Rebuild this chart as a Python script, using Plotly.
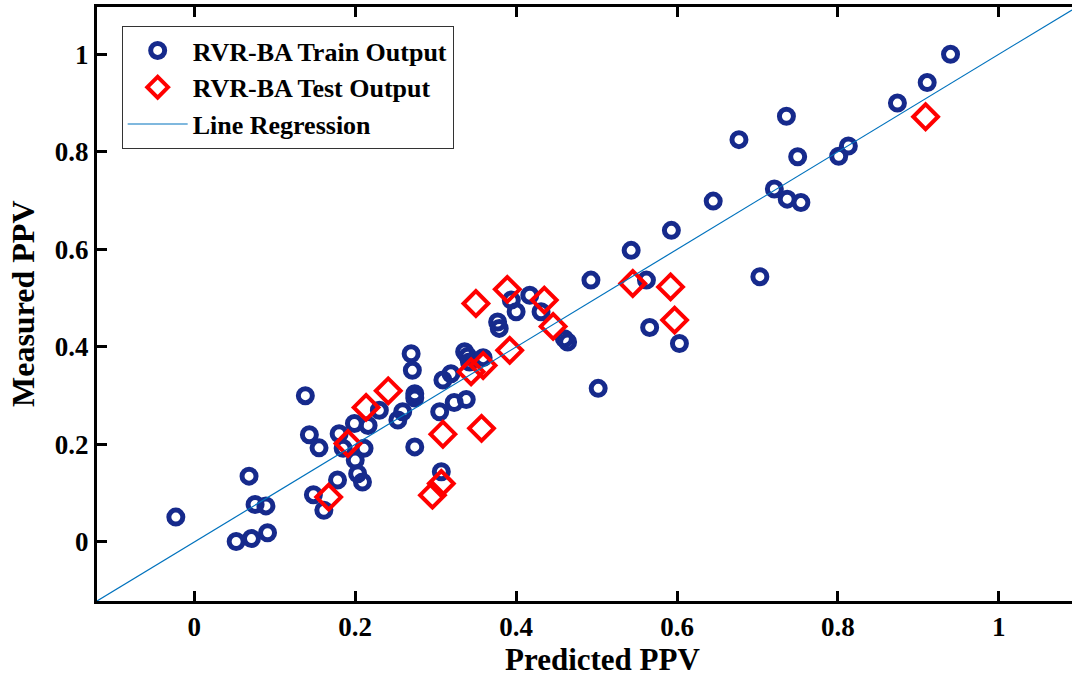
import plotly.graph_objects as go

train_pred = [-0.023, 0.052, 0.071, 0.091, 0.068, 0.0755, 0.089, 0.138, 0.143, 0.155,
              0.148, 0.161, 0.178, 0.180, 0.185, 0.199, 0.216, 0.211, 0.200, 0.203,
              0.209, 0.230, 0.253, 0.259, 0.2695, 0.271, 0.274, 0.274, 0.274, 0.305,
              0.309, 0.319, 0.323, 0.338, 0.336, 0.340, 0.342, 0.359, 0.307, 0.493,
              0.543, 0.562, 0.566, 0.603, 0.502, 0.417, 0.400, 0.394, 0.377, 0.379,
              0.431, 0.460, 0.464, 0.940, 0.911, 0.874, 0.736, 0.677, 0.750, 0.801,
              0.813, 0.721, 0.737, 0.754, 0.645, 0.593, 0.703]
train_meas = [0.051, 0.001, 0.007, 0.019, 0.135, 0.077, 0.074, 0.300, 0.220, 0.193,
              0.097, 0.065, 0.127, 0.222, 0.192, 0.243, 0.239, 0.192, 0.168, 0.140,
              0.123, 0.270, 0.250, 0.267, 0.386, 0.352, 0.304, 0.295, 0.195, 0.267,
              0.332, 0.345, 0.286, 0.292, 0.390, 0.381, 0.369, 0.378, 0.144, 0.537,
              0.598, 0.537, 0.440, 0.407, 0.315, 0.506, 0.472, 0.496, 0.451, 0.438,
              0.472, 0.417, 0.410, 1.000, 0.942, 0.900, 0.873, 0.825, 0.790, 0.791,
              0.812, 0.724, 0.703, 0.696, 0.699, 0.639, 0.544]

test_pred = [0.167, 0.191, 0.2135, 0.241, 0.309, 0.307, 0.296, 0.344, 0.357, 0.350,
             0.389, 0.435, 0.446, 0.392, 0.359, 0.545, 0.592, 0.597, 0.909]
test_meas = [0.092, 0.202, 0.276, 0.310, 0.221, 0.120, 0.096, 0.349, 0.233, 0.489,
             0.518, 0.496, 0.442, 0.393, 0.362, 0.530, 0.523, 0.455, 0.872]

line_x = [-0.121, 1.091]
line_y = [-0.121, 1.091]

tick_vals = [0, 0.2, 0.4, 0.6, 0.8, 1]
tick_text = ["<b>0</b>", "<b>0.2</b>", "<b>0.4</b>", "<b>0.6</b>", "<b>0.8</b>", "<b>1</b>"]

FONT = "Liberation Serif, Times New Roman, serif"
navy = "rgb(22,42,140)"

fig = go.Figure()
fig.add_trace(go.Scatter(x=train_pred, y=train_meas, mode="markers",
                         name="<b>RVR-BA Train Output</b>",
                         marker=dict(symbol="circle-open", size=14, color=navy,
                                     line=dict(width=5, color=navy))))
fig.add_trace(go.Scatter(x=test_pred, y=test_meas, mode="markers",
                         name="<b>RVR-BA Test Output</b>",
                         marker=dict(symbol="diamond-open", size=19, color="#FF0000",
                                     line=dict(width=4, color="#FF0000"))))
fig.add_trace(go.Scatter(x=line_x, y=line_y, mode="lines", name="<b>Line Regression</b>",
                         line=dict(color="#0072BD", width=1.2)))

axis_common = dict(showgrid=False, zeroline=False, showline=True, linecolor="black",
                   linewidth=3, ticks="inside", ticklen=10, tickwidth=2.5,
                   tickcolor="black", tickvals=tick_vals, ticktext=tick_text,
                   tickfont=dict(family=FONT, size=27, color="black"))

fig.update_layout(
    width=1072, height=691,
    margin=dict(l=97, r=0, t=7, b=90),
    plot_bgcolor="white", paper_bgcolor="white",
    xaxis=dict(range=[-0.121, 1.091], mirror="ticks", **axis_common),
    yaxis=dict(range=[-0.121, 1.097], mirror=False, **axis_common),
    yaxis2=dict(range=[-0.121, 1.097], overlaying="y", side="right", anchor="x",
                showgrid=False, zeroline=False, showline=False, ticks="inside",
                ticklen=5, tickwidth=2.5, tickcolor="black", tickvals=tick_vals,
                showticklabels=False),
    showlegend=True,
    legend=dict(x=0.0253, y=0.968, xanchor="left", yanchor="top",
                bgcolor="white", bordercolor="#333333", borderwidth=1,
                font=dict(family=FONT, size=26, color="black"),
                itemwidth=60, tracegroupgap=0),
    annotations=[
        dict(text="<b>Predicted PPV</b>", xref="paper", yref="paper", x=0.518, y=-0.098,
             xanchor="center", yanchor="middle", showarrow=False,
             font=dict(family=FONT, size=31, color="black")),
        dict(text="<b>Measured PPV</b>", xref="paper", yref="paper", x=-0.0759, y=0.5,
             xanchor="center", yanchor="middle", textangle=-90, showarrow=False,
             font=dict(family=FONT, size=32, color="black")),
    ],
)

fig.write_html("out.html")
